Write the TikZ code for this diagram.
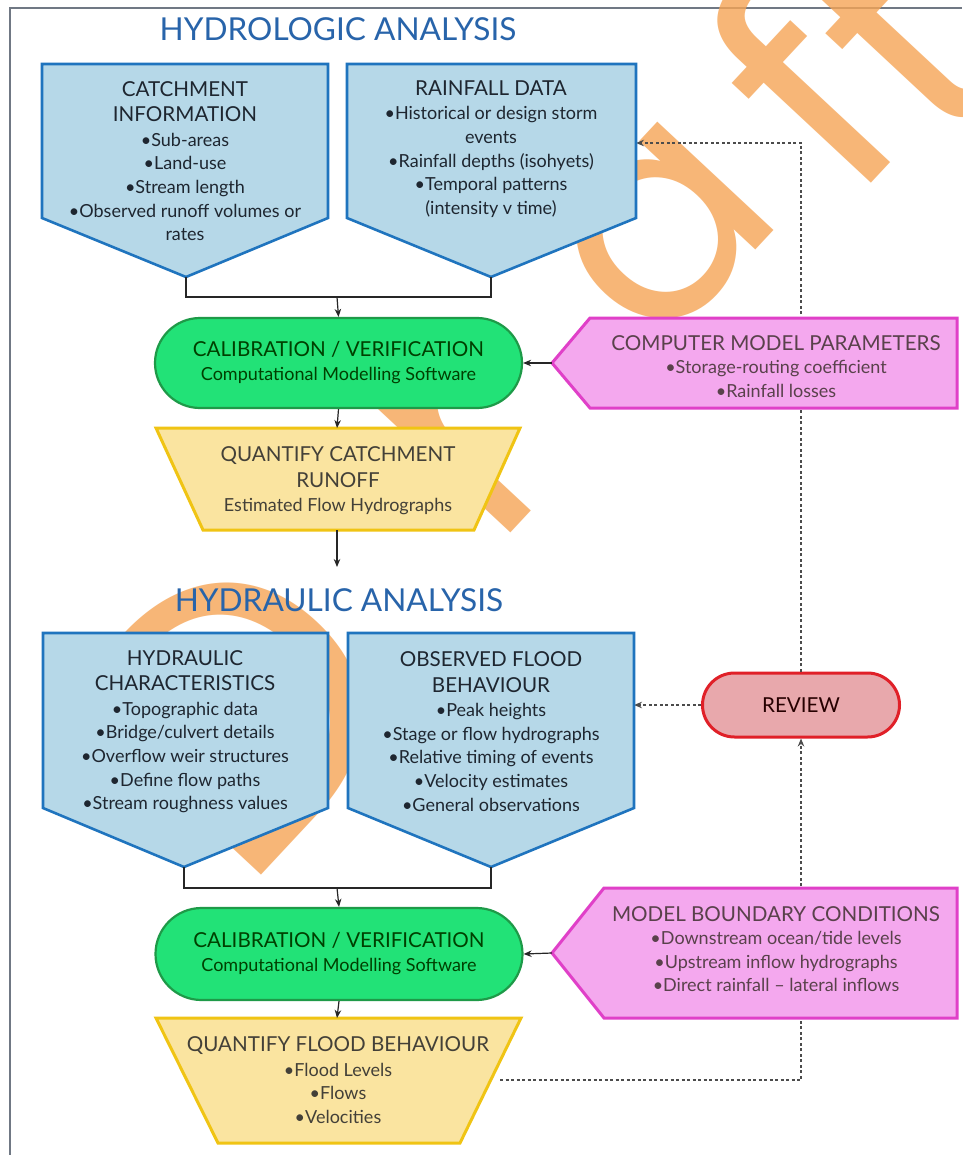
\documentclass[tikz,border=0pt]{standalone}
\usepackage{fontspec}
\setmainfont{Lato}
\newfontfamily\wmfont{Poppins}
\usetikzlibrary{arrows.meta,shapes.misc}
\definecolor{bluefill}{HTML}{B6D8E8}
\definecolor{blueline}{HTML}{1F74BE}
\definecolor{greenfill}{HTML}{22E277}
\definecolor{greenline}{HTML}{1E9A48}
\definecolor{yellowfill}{HTML}{FAE4A0}
\definecolor{yellowline}{HTML}{F0C414}
\definecolor{pinkfill}{HTML}{F4A8EE}
\definecolor{pinkline}{HTML}{E040C8}
\definecolor{reviewfill}{HTML}{E8A8AC}
\definecolor{reviewline}{HTML}{E02028}
\definecolor{titleblue}{HTML}{2864AA}
\definecolor{wmorange}{HTML}{F5A455}
\definecolor{framegray}{HTML}{707884}
\definecolor{txt}{HTML}{1E2630}
\newcommand{\hd}{\fontsize{20.6}{26}\selectfont}
\newcommand{\bd}{\fontsize{18}{23.6}\selectfont}
\newcommand{\wmsize}[1]{\wmfont\fontsize{#1}{#1}\selectfont}
\tikzset{
  titletext/.style={font=\fontsize{31.6}{36}\selectfont, text=titleblue, inner sep=0pt},
  boxtext/.style={font=\bd, text=txt, align=center, inner sep=0pt},
  bluebox/.style={fill=bluefill, draw=blueline, line width=2.6pt, line join=miter},
  yellowbox/.style={fill=yellowfill, draw=yellowline, line width=3pt},
  pinkbox/.style={fill=pinkfill, draw=pinkline, line width=3pt},
  greenbox/.style={rounded rectangle, fill=greenfill, draw=greenline, line width=2.2pt,
    minimum width=367pt, minimum height=90pt, align=center, text=green!25!black,
    font=\hd, inner sep=0pt},
  reviewbox/.style={rounded rectangle, fill=reviewfill, draw=reviewline, line width=3pt,
    minimum width=197pt, minimum height=64pt, font=\hd, text=black!85!red, inner sep=0pt},
  link/.style={draw=black!85, line width=1.2pt},
  arr/.style={link, -{Stealth[length=8pt,width=6.5pt]}},
  dasharr/.style={draw=black!70, line width=1.3pt, dash pattern=on 3pt off 2.5pt,
    -{Stealth[length=8pt,width=6.5pt]}},
  wm/.style={font=\wmsize{330}, text=wmorange, opacity=0.8,
    inner sep=0pt, rotate=47}
}
\begin{document}
\begin{tikzpicture}[x=1pt,y=-1pt]
\useasboundingbox (0,0) rectangle (962,1155);
\fill[white] (0,0) rectangle (962,1155);
% frame (top and left edges)
\draw[framegray, line width=1.5pt] (10,1155) -- (10,8) -- (962,8);
% watermark, letter by letter
\node[wm, font=\wmsize{380}] (wmD) at (236,708) {D};
\node[wm] (wmR) at (468,444) {r};
\node[wm, font=\wmsize{290}] (wmA) at (664,232) {a};
\node[wm, font=\wmsize{310}] (wmF) at (800,86) {f};
\node[wm, font=\wmsize{310}] (wmT) at (905,42) {t};

% ---- named coordinates
\coordinate (catchTip) at (186,277);
\coordinate (rainTip) at (491,277);
\coordinate (join1) at (337,297);
\coordinate (rainR) at (636,143);
\coordinate (cmpTip) at (552,363);
\coordinate (qc1top) at (337,428);
\coordinate (qc1bot) at (337,530);
\coordinate (arrEnd) at (337,567);
\coordinate (hydTip) at (184,867);
\coordinate (obsTip) at (491,867);
\coordinate (join2) at (337,888);
\coordinate (obsR) at (634,705);
\coordinate (bndTip) at (552,953);
\coordinate (qf2top) at (337,1018);
\coordinate (qf2r) at (500,1080);

% ---- review node and dashed feedback loop (behind pink boxes)
\node[reviewbox] (review) at (801,705) {REVIEW};
\draw[dasharr] (qf2r) -| (review.south);
\draw[dasharr] (review.west) -- (obsR);
\draw[dasharr] (review.north) |- (rainR);

% ---- titles
\node[titletext] (t1) at (338,29) {HYDROLOGIC ANALYSIS};
\node[titletext] (t2) at (339,600) {HYDRAULIC ANALYSIS};

% ---- hydrologic input boxes
\filldraw[bluebox] (42,64) -- (328,64) -- (328,218) -- (catchTip) -- (42,218) -- cycle;
\node[boxtext] (catch) at (185,161) {{\hd CATCHMENT}\\[2pt]{\hd INFORMATION}\\[1pt]
  •Sub-areas\\•Land-use\\•Stream length\\•Observed runoff volumes or\\rates};
\filldraw[bluebox] (347,64) -- (636,64) -- (636,218) -- (rainTip) -- (347,218) -- cycle;
\node[boxtext] (rain) at (491,149) {{\hd RAINFALL DATA}\\[1pt]
  •Historical or design storm\\events\\•Rainfall depths (isohyets)\\•Temporal patterns\\(intensity v time)};

% ---- calibration 1
\node[greenbox] (cal1) at (338.5,363) {CALIBRATION / VERIFICATION\\[-2pt]{\bd Computational Modelling Software}};
\filldraw[pinkbox] (cmpTip) -- (590,318) -- (957,318) -- (957,408) -- (590,408) -- cycle;
\node[boxtext, text=black!75!magenta] (cmp) at (776,366.5) {{\hd COMPUTER MODEL PARAMETERS}\\[0pt]
  •Storage-routing coefficient\\•Rainfall losses};

% ---- quantify runoff
\filldraw[yellowbox] (156,428) -- (520,428) -- (474,530) -- (203,530) -- cycle;
\node[boxtext, text=black!85!yellow] (qc1) at (338,481) {{\hd QUANTIFY CATCHMENT}\\[2pt]{\hd RUNOFF}\\[1pt]
  Estimated Flow Hydrographs};

% ---- hydraulic input boxes
\filldraw[bluebox] (43,633) -- (328,633) -- (328,808) -- (hydTip) -- (43,808) -- cycle;
\node[boxtext] (hyd) at (185,731.5) {{\hd HYDRAULIC}\\[2pt]{\hd CHARACTERISTICS}\\[1pt]
  •Topographic data\\•Bridge/culvert details\\•Overflow weir structures\\•Define flow paths\\•Stream roughness values};
\filldraw[bluebox] (348,633) -- (634,633) -- (634,808) -- (obsTip) -- (348,808) -- cycle;
\node[boxtext] (obs) at (491,731.5) {{\hd OBSERVED FLOOD}\\[2pt]{\hd BEHAVIOUR}\\[1pt]
  •Peak heights\\•Stage or flow hydrographs\\•Relative timing of events\\•Velocity estimates\\•General observations};

% ---- calibration 2
\node[greenbox, minimum height=92pt] (cal2) at (339,954) {CALIBRATION / VERIFICATION\\[-2pt]{\bd Computational Modelling Software}};
\filldraw[pinkbox] (bndTip) -- (604,888) -- (957,888) -- (957,1018) -- (604,1018) -- cycle;
\node[boxtext, text=black!75!magenta] (bnd) at (776,949) {{\hd MODEL BOUNDARY CONDITIONS}\\[0pt]
  •Downstream ocean/tide levels\\•Upstream inflow hydrographs\\•Direct rainfall – lateral inflows};

% ---- quantify flood behaviour
\filldraw[yellowbox] (156,1018) -- (521,1018) -- (460,1143) -- (218,1143) -- cycle;
\node[boxtext, text=black!85!yellow] (qf2) at (338,1080) {{\hd QUANTIFY FLOOD BEHAVIOUR}\\[1pt]
  •Flood Levels\\•Flows\\•Velocities};

% ---- solid connectors
\draw[link] (catchTip) |- (join1) -| (rainTip);
\draw[arr] (join1) -- (cal1.north);
\draw[arr] (cmpTip) -- (cal1.east);
\draw[arr] (cal1.south) -- (qc1top);
\draw[arr] (qc1bot) -- (arrEnd);
\draw[link] (hydTip) |- (join2) -| (obsTip);
\draw[arr] (join2) -- (cal2.north);
\draw[arr] (bndTip) -- (cal2.east);
\draw[arr] (cal2.south) -- (qf2top);
\end{tikzpicture}
\end{document}
